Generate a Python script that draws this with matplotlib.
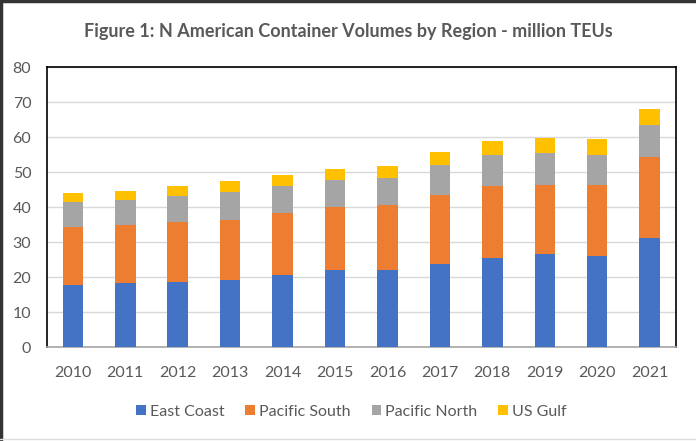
import matplotlib
matplotlib.use("Agg")
import matplotlib.pyplot as plt
import numpy as np
from matplotlib.lines import Line2D

years = ["2010", "2011", "2012", "2013", "2014", "2015", "2016", "2017", "2018", "2019", "2020", "2021"]
east_coast = [17.7, 18.3, 18.6, 19.2, 20.5, 22.1, 22.1, 23.8, 25.5, 26.5, 26.1, 31.3]
pacific_south = [16.5, 16.5, 17.0, 17.2, 17.8, 17.8, 18.4, 19.7, 20.5, 19.8, 20.2, 23.0]
pacific_north = [7.2, 7.1, 7.5, 7.8, 7.7, 7.8, 7.8, 8.5, 8.8, 9.1, 8.5, 9.0]
us_gulf = [2.6, 2.8, 2.9, 3.1, 3.1, 3.3, 3.4, 3.8, 4.2, 4.4, 4.5, 4.7]

series_names = ["East Coast", "Pacific South", "Pacific North", "US Gulf"]
colors = ["#4472C4", "#ED7D31", "#A5A5A5", "#FFC000"]

plt.rcParams['font.family'] = ['Lato', 'DejaVu Sans']
txt = "#595959"

fig = plt.figure(figsize=(6.96, 4.41), dpi=100)
ax = fig.add_axes([0.067, 0.213, 0.904, 0.635])

x = np.arange(len(years))
bottom = np.zeros(len(years))
handles = []
for name, vals, c in zip(series_names, [east_coast, pacific_south, pacific_north, us_gulf], colors):
    v = np.array(vals)
    b = ax.bar(x, v, width=0.39, bottom=bottom, color=c, label=name, zorder=3)
    bottom += v
    handles.append(b)

ax.set_xlim(-0.5, len(years) - 0.5)
ax.set_ylim(0, 80)
ax.set_yticks(range(0, 81, 10))
ax.set_xticks(x)
ax.set_xticklabels(years)
ax.yaxis.grid(True, color="#D9D9D9", linewidth=1.0, zorder=0)
ax.set_axisbelow(True)
ax.tick_params(axis='both', length=0, labelsize=11.5, colors=txt)
ax.tick_params(axis='y', pad=11)
ax.tick_params(axis='x', pad=13.5)
for s in ['left', 'top', 'right']:
    ax.spines[s].set_color("#000000")
    ax.spines[s].set_linewidth(1.2)
ax.spines['bottom'].set_color("#A6A6A6")
ax.spines['bottom'].set_linewidth(1.2)

fig.text(0.5, 0.929, "Figure 1: N American Container Volumes by Region - million TEUs",
         ha='center', va='center', fontsize=13, fontweight='bold', color=txt)

leg = fig.legend(handles=handles, labels=series_names, loc='center', bbox_to_anchor=(0.505, 0.066),
                 ncol=4, frameon=False, fontsize=11.5, handlelength=0.62, handleheight=0.62,
                 handletextpad=0.25, columnspacing=1.3)
for t in leg.get_texts():
    t.set_color(txt)

# figure border (top and left dark, bottom light)
fig.add_artist(Line2D([0, 1], [0.998, 0.998], transform=fig.transFigure, color="#333333", linewidth=2.5))
fig.add_artist(Line2D([0.002, 0.002], [0, 1], transform=fig.transFigure, color="#333333", linewidth=2.5))
fig.add_artist(Line2D([0, 1], [0.004, 0.004], transform=fig.transFigure, color="#DDDDDD", linewidth=1))

fig.savefig("out.png", dpi=100)
